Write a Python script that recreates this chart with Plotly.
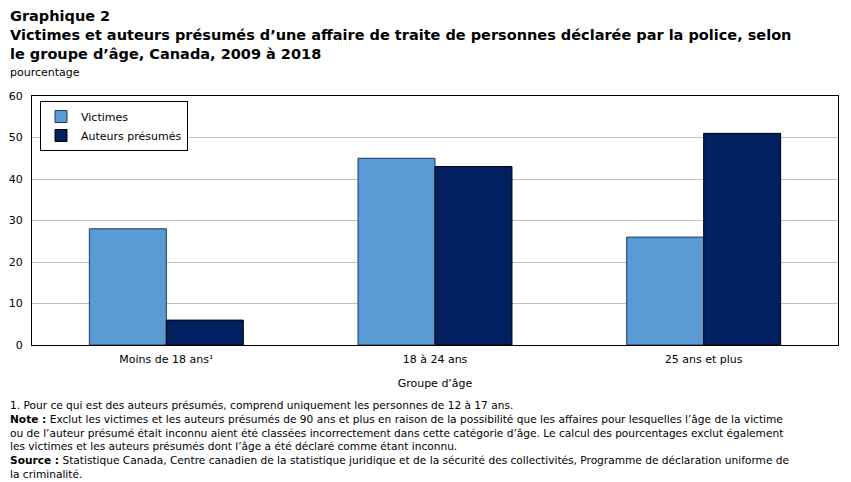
import plotly.graph_objects as go

categories = ["Moins de 18 ans¹", "18 à 24 ans", "25 ans et plus"]
victimes = [28, 45, 26]
auteurs = [6, 43, 51]
series_names = ["Victimes", "Auteurs présumés"]
y_ticks = [0, 10, 20, 30, 40, 50, 60]

FONT = "DejaVu Sans"
L, R, T, B = 32, 13, 96, 137
W, H = 851, 482
ph = H - T - B

def py(ypix):
    return (H - B - ypix) / ph

def px(xpix):
    return (xpix - L) / (W - L - R)

fig = go.Figure()
fig.add_trace(go.Bar(x=categories, y=victimes, name=series_names[0],
                     marker=dict(color="#5B9BD5", line=dict(color="#1F3864", width=1))))
fig.add_trace(go.Bar(x=categories, y=auteurs, name=series_names[1],
                     marker=dict(color="#002060", line=dict(color="#000000", width=1))))

fig.update_layout(
    width=W, height=H,
    margin=dict(l=L, r=R, t=T, b=B),
    paper_bgcolor="white", plot_bgcolor="white",
    font=dict(family=FONT, size=11, color="#000000"),
    barmode="group", bargap=0.427, bargroupgap=0,
    showlegend=True,
    legend=dict(x=px(40), y=py(101), xanchor="left", yanchor="top",
                bordercolor="#000000", borderwidth=1, bgcolor="white",
                font=dict(family=FONT, size=11), tracegroupgap=0,
                itemwidth=30),
    xaxis=dict(showline=True, linecolor="#000000", linewidth=1, mirror=True,
               ticks="", tickfont=dict(size=11), ticklabelstandoff=4, automargin=False,
               title=dict(text="Groupe d’âge", font=dict(size=11), standoff=14)),
    yaxis=dict(range=[0, 60], tickvals=y_ticks, showline=True, linecolor="#000000",
               linewidth=1, mirror=True, showgrid=True, gridcolor="#C0C0C0", gridwidth=1,
               ticks="", tickfont=dict(size=11), zeroline=False, ticklabelstandoff=6,
               automargin=False),
)

fig.add_annotation(xref="paper", yref="paper", x=px(8), y=py(6), xanchor="left", yanchor="top",
                   align="left", showarrow=False,
                   text="<b>Graphique 2<br>Victimes et auteurs présumés d’une affaire de traite de personnes déclarée par la police, selon<br>le groupe d’âge, Canada, 2009 à 2018</b>",
                   font=dict(family=FONT, size=14.5, color="#000000"))
fig.add_annotation(xref="paper", yref="paper", x=px(8), y=py(64), xanchor="left", yanchor="top",
                   align="left", showarrow=False, text="pourcentage",
                   font=dict(family=FONT, size=11))

notes = ("1. Pour ce qui est des auteurs présumés, comprend uniquement les personnes de 12 à 17 ans.<br>"
         "<b>Note :</b> Exclut les victimes et les auteurs présumés de 90 ans et plus en raison de la possibilité que les affaires pour lesquelles l’âge de la victime<br>"
         "ou de l’auteur présumé était inconnu aient été classées incorrectement dans cette catégorie d’âge. Le calcul des pourcentages exclut également<br>"
         "les victimes et les auteurs présumés dont l’âge a été déclaré comme étant inconnu.<br>"
         "<b>Source :</b> Statistique Canada, Centre canadien de la statistique juridique et de la sécurité des collectivités, Programme de déclaration uniforme de<br>"
         "la criminalité.")
fig.add_annotation(xref="paper", yref="paper", x=px(8), y=py(397), xanchor="left", yanchor="top",
                   align="left", showarrow=False, text=notes,
                   font=dict(family="DejaVu Sans", size=10.6))

fig.write_html("out.html")
